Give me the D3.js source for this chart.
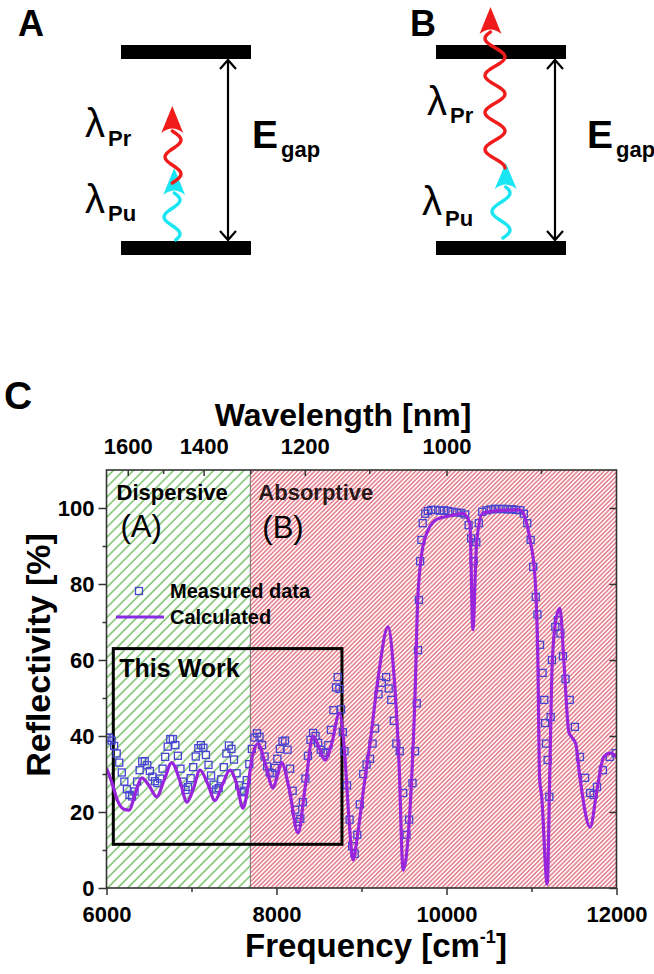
<!doctype html>
<html>
  <head>
    <style>
      body { margin: 0; background: #fff; }
      svg text { font-family: Arial, 'Liberation Sans', sans-serif; }
    </style>
  </head>
  <body>
    <svg id='chart0'></svg>

    <script src='https://d3js.org/d3.v7.min.js'></script>
    <script>
      // axis ticks
      const freq_ticks = [6000, 8000, 10000, 12000];
      const freq_minor = [7000, 9000, 11000];
      const refl_ticks = [0, 20, 40, 60, 80, 100];
      const refl_minor = [10, 30, 50, 70, 90];
      const wl_ticks = [1600, 1400, 1200, 1000];
      const wl_minor = [1500, 1300, 1100, 900];

      // regime boundary (nm) and the "This Work" window [freq], [refl]
      const boundary_nm = 1300;
      const this_work_freq = [6080, 8770];
      const this_work_refl = [11.5, 63];

      // measured reflectivity, [frequency cm-1, reflectivity %]
      const measured = [
        [6000, 39.6], [6030, 39.5], [6060, 38.8], [6090, 37.4], [6120, 35.4], [6150, 33],
        [6180, 30.4], [6210, 28], [6240, 26], [6270, 24.5], [6300, 24.1], [6330, 25.4],
        [6360, 28], [6390, 31], [6420, 33.3], [6450, 33.4], [6480, 32.3], [6510, 30.8],
        [6540, 29.3], [6570, 28.1], [6600, 27.6], [6630, 28.8], [6660, 31.4], [6690, 34.5],
        [6720, 37.2], [6750, 39.2], [6780, 39.2], [6810, 37.6], [6840, 34.8], [6870, 31.4],
        [6900, 28], [6930, 25.8], [6960, 26.6], [6990, 28.9], [7020, 31.8], [7050, 34.6],
        [7080, 36.8], [7110, 37.6], [7140, 36.9], [7170, 35], [7200, 32.4], [7230, 29.6],
        [7260, 27.2], [7290, 25.9], [7320, 26.3], [7350, 28.6], [7380, 31.8], [7410, 35.4],
        [7440, 37.5], [7470, 36.6], [7500, 33.8], [7530, 30.2], [7560, 27], [7590, 25.2],
        [7620, 25.6], [7650, 28.4], [7680, 32.6], [7710, 36.6], [7740, 39.6], [7770, 40.7],
        [7800, 39.8], [7830, 37.6], [7860, 34.6], [7890, 32], [7920, 30.4], [7950, 30.2],
        [7980, 31.6], [8010, 34], [8040, 36.6], [8070, 38.6], [8100, 38.8], [8130, 36.4],
        [8160, 31.4], [8190, 25.6], [8220, 20.6], [8250, 17.4], [8280, 18.2], [8310, 22.6],
        [8340, 28.8], [8370, 34.8], [8400, 39], [8430, 40.8], [8460, 40], [8490, 38.2],
        [8520, 36.4], [8550, 35.6], [8580, 35.6], [8610, 37.6], [8640, 41.6], [8670, 46.8],
        [8700, 52.8], [8720, 55.5], [8740, 52.4], [8760, 47], [8780, 41], [8800, 36],
        [8830, 27], [8860, 18], [8890, 11], [8920, 9], [8950, 14], [8980, 22],
        [9020, 30], [9060, 32.5], [9100, 34], [9130, 38], [9160, 42], [9200, 51],
        [9240, 54], [9290, 55.5], [9320, 52.5], [9350, 49.5], [9380, 44], [9410, 38],
        [9450, 36], [9490, 25], [9530, 14], [9560, 18], [9600, 27.6], [9630, 36],
        [9650, 48.6], [9665, 62.6], [9676, 75.8], [9690, 86], [9705, 91.6], [9720, 96],
        [9750, 98.5], [9780, 99.2], [9820, 99.5], [9870, 99.5], [9920, 99.3], [9970, 99.4],
        [10020, 99.2], [10070, 99], [10120, 98.8], [10170, 98.7], [10220, 98.3], [10260, 95.5],
        [10290, 92], [10320, 86], [10350, 91], [10380, 96], [10420, 99], [10470, 99.4],
        [10520, 99.6], [10570, 99.8], [10620, 99.7], [10670, 99.8], [10720, 99.6], [10770, 99.7],
        [10820, 99.5], [10870, 99.4], [10910, 98.5], [10950, 96], [10990, 91.6], [11020, 84.5],
        [11050, 76.6], [11070, 72], [11100, 64], [11130, 56.6], [11150, 49.5], [11160, 43.4],
        [11170, 38], [11190, 33.7], [11210, 24], [11225, 45], [11240, 60], [11280, 68.7],
        [11310, 70.5], [11340, 67], [11370, 61], [11400, 55], [11450, 49.5], [11510, 42.4],
        [11570, 34.5], [11630, 29], [11690, 25], [11730, 24.5], [11770, 26.6], [11840, 31],
        [11920, 34.5], [11990, 35.5]
      ];

      // calculated reflectivity, [frequency cm-1, reflectivity %]
      const calculated = [
        [6000, 31.5], [6060, 28], [6130, 23], [6200, 20.8], [6265, 20.5], [6340, 25],
        [6414, 29], [6500, 27], [6590, 24], [6680, 28.5], [6767, 33], [6860, 28.5],
        [6947, 22.6], [7020, 26], [7100, 31], [7190, 27.5], [7276, 23], [7360, 27],
        [7453, 31], [7530, 27.5], [7606, 21], [7660, 26], [7710, 34], [7782, 38],
        [7870, 32.5], [7960, 26.3], [8010, 29.5], [8060, 33], [8150, 26], [8253, 14.5],
        [8340, 27], [8430, 40], [8500, 37], [8570, 33.7], [8650, 38], [8740, 46],
        [8800, 36], [8850, 19], [8900, 7.4], [8960, 15], [9030, 27], [9100, 38],
        [9200, 56], [9312, 68.7], [9380, 56.6], [9440, 33.7], [9490, 4.7], [9570, 20.5],
        [9630, 51], [9665, 77.6], [9745, 92], [9885, 97], [10050, 98], [10190, 98.6],
        [10275, 96], [10310, 68], [10355, 91], [10425, 98.6], [10600, 99.3], [10860, 99.5],
        [10930, 97], [10980, 92], [11040, 82], [11075, 60], [11095, 29], [11120, 24],
        [11185, 1], [11215, 30], [11245, 60], [11300, 72], [11335, 73.6], [11380, 60],
        [11440, 41], [11480, 39.5], [11520, 38], [11570, 29], [11690, 16], [11770, 25.8],
        [11850, 34.5], [11930, 35.5], [12000, 34.5]
      ];

      const width = 654;
      const height = 974;
      const margin = ({top: 470, right: 654 - 616.5, bottom: 974 - 888, left: 106.5});

      const svg = d3.select('svg#chart0')
                    .attr('width', width)
                    .attr('height', height);

      const x = d3.scaleLinear()
                  .domain([6000, 12000])
                  .range([margin.left, width - margin.right]);
      const y = d3.scaleLinear()
                  .domain([0, 110])
                  .range([height - margin.bottom, margin.top]);

      // ---------- panels A and B (schematic) ----------
      const panels = [
        {label: 'A', lx: 18, bar: [121, 251], arrow_x: 228, e_x: 252,
         pr: [85, 137, 146], pu: [85, 213, 221],
         red: {cx: 173, y0: 183, y1: 131, amp: 8, period: 34, ref: 140, tip: 106},
         cyan: {cx: 172, y0: 240, y1: 193, amp: 8, period: 34, ref: 200, tip: 168}},
        {label: 'B', lx: 410, bar: [436, 566], arrow_x: 555, e_x: 587,
         pr: [427, 115, 123], pu: [422, 215, 226],
         red: {cx: 495, y0: 168, y1: 32, amp: 10, period: 37, ref: 57, tip: 7},
         cyan: {cx: 501, y0: 238, y1: 187, amp: 9, period: 37, ref: 193, tip: 163}}
      ];
      const level_top = 45, level_bot = 241, level_h = 14;

      function wave_points(w) {
        const pts = [];
        for (let yy = w.y0; yy >= w.y1; yy -= 1)
          pts.push([w.cx + w.amp * Math.cos(2 * Math.PI * (yy - w.ref) / w.period), yy]);
        return pts;
      }
      const wave_line = d3.line().curve(d3.curveBasis);

      function draw_wave(g, w, color) {
        const pts = wave_points(w);
        g.append('path')
         .attr('d', wave_line(pts))
         .attr('fill', 'none')
         .attr('stroke', color)
         .attr('stroke-width', 3.4)
         .attr('stroke-linecap', 'round');
        const end = pts[pts.length - 1];
        const tx = end[0], base = end[1] + 2;
        g.append('path')
         .attr('d', `M${tx},${w.tip} L${tx - 11},${base} Q${tx},${base - 9} ${tx + 11},${base} Z`)
         .attr('fill', color);
      }

      panels.forEach(p => {
        const g = svg.append('g');
        g.append('text').attr('x', p.lx).attr('y', 36)
         .attr('font-size', 36).attr('font-weight', 'bold').text(p.label);
        [level_top, level_bot].forEach(ly =>
          g.append('rect').attr('x', p.bar[0]).attr('y', ly)
           .attr('width', p.bar[1] - p.bar[0]).attr('height', level_h).attr('fill', '#000'));
        // double-headed gap arrow
        const a0 = level_top + level_h + 1, a1 = level_bot - 1;
        g.append('line').attr('x1', p.arrow_x).attr('x2', p.arrow_x)
         .attr('y1', a0).attr('y2', a1).attr('stroke', '#000').attr('stroke-width', 2.2);
        g.append('path')
         .attr('d', `M${p.arrow_x - 8},${a0 + 9} L${p.arrow_x},${a0} L${p.arrow_x + 8},${a0 + 9}` +
                    `M${p.arrow_x - 8},${a1 - 9} L${p.arrow_x},${a1} L${p.arrow_x + 8},${a1 - 9}`)
         .attr('fill', 'none').attr('stroke', '#000').attr('stroke-width', 2.2);
        g.append('text').attr('x', p.e_x).attr('y', 148)
         .attr('font-size', 39).attr('font-weight', 'bold').text('E');
        g.append('text').attr('x', p.e_x + 29).attr('y', 157)
         .attr('font-size', 22).attr('font-weight', 'bold').text('gap');
        [[p.pr, 'Pr'], [p.pu, 'Pu']].forEach(([pos, sub]) => {
          g.append('text').attr('x', pos[0]).attr('y', pos[1])
           .attr('font-size', 40).text('λ');
          g.append('text').attr('x', pos[0] + 23).attr('y', pos[2])
           .attr('font-size', 22).attr('font-weight', 'bold').text(sub);
        });
        draw_wave(g, p.cyan, '#19e6f2');
        draw_wave(g, p.red, '#f01b1b');
      });

      // ---------- panel C ----------
      svg.append('text').attr('x', 4).attr('y', 409)
         .attr('font-size', 39).attr('font-weight', 'bold').text('C');

      const defs = svg.append('defs');
      const green = defs.append('pattern').attr('id', 'hatch_green')
                        .attr('patternUnits', 'userSpaceOnUse')
                        .attr('width', 7.1).attr('height', 7.1)
                        .attr('patternTransform', 'rotate(45)');
      green.append('rect').attr('width', 7.1).attr('height', 7.1).attr('fill', '#fff');
      green.append('line').attr('x1', 1).attr('x2', 1).attr('y1', 0).attr('y2', 7.1)
           .attr('stroke', '#58b346').attr('stroke-width', 1.2);
      const red = defs.append('pattern').attr('id', 'hatch_red')
                      .attr('patternUnits', 'userSpaceOnUse')
                      .attr('width', 3.1).attr('height', 3.1)
                      .attr('patternTransform', 'rotate(45)');
      red.append('rect').attr('width', 3.1).attr('height', 3.1).attr('fill', '#fff8f8');
      red.append('line').attr('x1', 0.8).attr('x2', 0.8).attr('y1', 0).attr('y2', 3.1)
         .attr('stroke', '#db5468').attr('stroke-width', 1.1);

      defs.append('clipPath').attr('id', 'plot_clip')
          .append('rect').attr('x', x(6000)).attr('y', y(110))
          .attr('width', x(12000) - x(6000)).attr('height', y(0) - y(110));

      const boundary = 1e7 / boundary_nm;
      svg.append('rect').attr('x', x(6000)).attr('y', y(110))
         .attr('width', x(boundary) - x(6000)).attr('height', y(0) - y(110))
         .attr('fill', 'url(#hatch_green)');
      svg.append('rect').attr('x', x(boundary)).attr('y', y(110))
         .attr('width', x(12000) - x(boundary)).attr('height', y(0) - y(110))
         .attr('fill', 'url(#hatch_red)');
      svg.append('line').attr('x1', x(boundary)).attr('x2', x(boundary))
         .attr('y1', y(110)).attr('y2', y(0)).attr('stroke', '#555').attr('stroke-width', 0.8);

      svg.append('text').attr('x', x(6000) + 10).attr('y', 500)
         .attr('font-size', 22).attr('font-weight', 'bold').text('Dispersive');
      svg.append('text').attr('x', x(6000) + 14).attr('y', 537)
         .attr('font-size', 31).text('(A)');
      svg.append('text').attr('x', x(boundary) + 8).attr('y', 500)
         .attr('font-size', 22).attr('font-weight', 'bold').attr('fill', '#2a1818').text('Absorptive');
      svg.append('text').attr('x', x(boundary) + 12).attr('y', 538)
         .attr('font-size', 31).text('(B)');

      // This Work box
      svg.append('rect')
         .attr('x', x(this_work_freq[0])).attr('y', y(this_work_refl[1]))
         .attr('width', x(this_work_freq[1]) - x(this_work_freq[0]))
         .attr('height', y(this_work_refl[0]) - y(this_work_refl[1]))
         .attr('fill', 'none').attr('stroke', '#000').attr('stroke-width', 3);
      svg.append('text').attr('x', x(this_work_freq[0]) + 6).attr('y', 677)
         .attr('font-size', 25).attr('font-weight', 'bold').text('This Work');

      // data
      const plot = svg.append('g').attr('clip-path', 'url(#plot_clip)');
      const sq = 7;
      const sq_color = '#4744d0';
      plot.selectAll('rect.meas')
          .data(measured)
          .join('rect')
          .attr('class', 'meas')
          .attr('x', d => x(d[0]) - sq / 2)
          .attr('y', d => y(d[1]) - sq / 2)
          .attr('width', sq).attr('height', sq)
          .attr('fill', 'none')
          .attr('stroke', sq_color)
          .attr('stroke-width', 1.3);
      const calc_line = d3.line()
                          .x(d => x(d[0]))
                          .y(d => y(d[1]))
                          .curve(d3.curveMonotoneX);
      plot.append('path')
          .attr('d', calc_line(calculated))
          .attr('fill', 'none')
          .attr('stroke', '#9824dc')
          .attr('stroke-width', 3.2)
          .attr('stroke-linejoin', 'round');

      // legend
      svg.append('rect').attr('x', 139 - sq / 2).attr('y', 591 - sq / 2)
         .attr('width', sq).attr('height', sq)
         .attr('fill', 'none').attr('stroke', sq_color).attr('stroke-width', 1.3);
      svg.append('text').attr('x', 170).attr('y', 598)
         .attr('font-size', 20).attr('font-weight', 'bold').text('Measured data');
      svg.append('line').attr('x1', 116).attr('x2', 164).attr('y1', 617).attr('y2', 617)
         .attr('stroke', '#8a2be2').attr('stroke-width', 3.2);
      svg.append('text').attr('x', 170).attr('y', 624)
         .attr('font-size', 20).attr('font-weight', 'bold').text('Calculated');

      // frame
      svg.append('rect').attr('x', x(6000)).attr('y', y(110))
         .attr('width', x(12000) - x(6000)).attr('height', y(0) - y(110))
         .attr('fill', 'none').attr('stroke', '#333').attr('stroke-width', 1.6);

      // axes
      function style_axis(g) {
        g.select('.domain').remove();
        g.selectAll('.tick line').attr('stroke', '#333').attr('stroke-width', 1.5);
        g.selectAll('.tick text').attr('font-size', 22).attr('font-weight', 'bold')
         .attr('fill', '#000').attr('font-family', 'Arial, Liberation Sans, sans-serif');
      }
      svg.append('g')
         .attr('transform', `translate(0,${y(0)})`)
         .call(d3.axisBottom(x).tickValues(freq_ticks).tickSize(7).tickPadding(11)
                 .tickFormat(d3.format('d')))
         .call(style_axis);
      svg.append('g')
         .attr('transform', `translate(0,${y(0)})`)
         .call(d3.axisBottom(x).tickValues(freq_minor).tickSize(4).tickFormat(''))
         .call(style_axis);
      svg.append('g')
         .attr('transform', `translate(${x(6000)},0)`)
         .call(d3.axisLeft(y).tickValues(refl_ticks).tickSize(8).tickPadding(4))
         .call(style_axis);
      svg.append('g')
         .attr('transform', `translate(${x(6000)},0)`)
         .call(d3.axisLeft(y).tickValues(refl_minor).tickSize(4).tickFormat(''))
         .call(style_axis);
      svg.append('g')
         .attr('transform', `translate(${x(12000)},0)`)
         .call(d3.axisRight(y).tickValues(refl_ticks).tickSize(-7).tickFormat(''))
         .call(style_axis);
      svg.append('g')
         .attr('transform', `translate(0,${y(110)})`)
         .call(d3.axisTop(x).tickValues(wl_ticks.map(w => 1e7 / w)).tickSize(-6).tickPadding(16)
                 .tickFormat(f => Math.round(1e7 / f)))
         .call(style_axis);
      svg.append('g')
         .attr('transform', `translate(0,${y(110)})`)
         .call(d3.axisTop(x).tickValues(wl_minor.map(w => 1e7 / w)).tickSize(-4).tickFormat(''))
         .call(style_axis);

      // axis titles
      svg.append('text').attr('x', 343).attr('y', 426).attr('text-anchor', 'middle')
         .attr('font-size', 32).attr('font-weight', 'bold').text('Wavelength [nm]');
      const ft = svg.append('text').attr('x', 376).attr('y', 957).attr('text-anchor', 'middle')
                    .attr('font-size', 33).attr('font-weight', 'bold');
      ft.append('tspan').text('Frequency [cm');
      ft.append('tspan').attr('dy', -14).attr('font-size', 18).text('-1');
      ft.append('tspan').attr('dy', 14).text(']');
      svg.append('text')
         .attr('transform', `translate(50,655) rotate(-90)`)
         .attr('text-anchor', 'middle')
         .attr('font-size', 34).attr('font-weight', 'bold').text('Reflectivity [%]');
    </script>
  </body>
</html>
